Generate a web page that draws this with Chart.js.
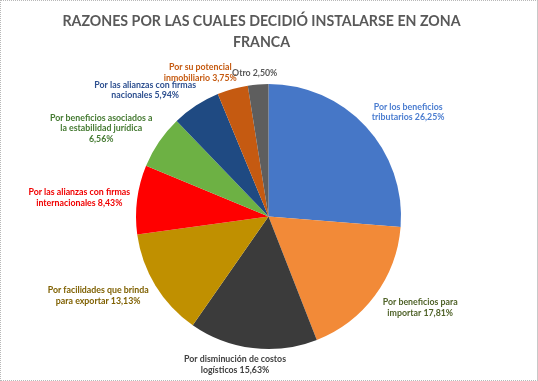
<!DOCTYPE html>
<html>
<head>
<meta charset="utf-8">
<script src="https://cdn.jsdelivr.net/npm/chart.js@4.4.1/dist/chart.umd.min.js"></script>
<style>
html,body{margin:0;padding:0;background:#fff;}
#wrap{width:538px;height:381px;box-sizing:border-box;border:1px dotted #b8b8b8;border-right:1px solid #c8c8c8;}
canvas{display:block;}
</style>
</head>
<body>
<div id="wrap"><canvas id="c" width="536" height="379"></canvas></div>
<script>
// ---- data ----
const titleLines = ["RAZONES POR LAS CUALES DECIDIÓ INSTALARSE EN ZONA", "FRANCA"];
const categories = [
  "Por los beneficios\ntributarios",
  "Por beneficios para\nimportar",
  "Por disminución de costos\nlogísticos",
  "Por facilidades que brinda\npara exportar",
  "Por las alianzas con firmas\ninternacionales",
  "Por beneficios asociados a\nla estabilidad jurídica\n",
  "Por las alianzas con firmas\nnacionales",
  "Por su potencial\ninmobiliario",
  "Otro"
];
const values = [26.25, 17.81, 15.63, 13.13, 8.43, 6.56, 5.94, 3.75, 2.50];

// ---- styles ----
const sliceColors = ["#4677C7", "#F28A38", "#3B3B3B", "#C09000", "#FF0000", "#6DB144", "#1F4A82", "#C55A11", "#5E5E5E"];
const labelColors = ["#4B7DD0", "#4F6228", "#404040", "#7F6000", "#F00000", "#457A32", "#2E5090", "#C55A11", "#595959"];
// label placement: [angle tweak (deg) from slice middle, distance as factor of radius]
const labelPlacement = [[6, 1.315], [-5.6, 1.335], [6, 1.145], [6.5, 1.418], [-1.7, 1.435], [-6.6, 1.426], [-11.1, 1.333], [-9.6, 1.203], [-1, 1.088]];
const FONT = "Lato";

function fmt(v) { return v.toFixed(2).replace('.', ',') + '%'; }

const titlePlugin = {
  id: 'customTitle',
  afterDraw(chart) {
    const ctx = chart.ctx;
    ctx.save();
    ctx.font = "bold 14.2px " + FONT;
    ctx.fillStyle = "#595959";
    ctx.textAlign = "center";
    ctx.textBaseline = "middle";
    titleLines.forEach((t, k) => ctx.fillText(t, 260.5, 20 + k * 21));
    ctx.restore();
  }
};

const labelPlugin = {
  id: 'sliceLabels',
  afterDatasetsDraw(chart) {
    const ctx = chart.ctx;
    const meta = chart.getDatasetMeta(0);
    ctx.save();
    ctx.font = "bold 8.8px " + FONT;
    ctx.textAlign = "center";
    ctx.textBaseline = "middle";
    const LH = 10.5;
    meta.data.forEach((arc, i) => {
      const p = arc.getProps(['x', 'y', 'startAngle', 'endAngle', 'outerRadius'], true);
      const mid = (p.startAngle + p.endAngle) / 2 + labelPlacement[i][0] * Math.PI / 180;
      const d = p.outerRadius * labelPlacement[i][1];
      const cx = p.x + Math.cos(mid) * d;
      const cy = p.y + Math.sin(mid) * d;
      const cat = chart.data.labels[i];
      const val = chart.data.datasets[0].data[i];
      const full = cat.endsWith("\n") ? cat + fmt(val) : cat + " " + fmt(val);
      const lines = full.split("\n");
      ctx.fillStyle = labelColors[i];
      lines.forEach((t, k) => ctx.fillText(t, cx, cy + (k - (lines.length - 1) / 2) * LH));
    });
    ctx.restore();
  }
};

new Chart(document.getElementById('c'), {
  type: 'pie',
  data: {
    labels: categories,
    datasets: [{
      data: values,
      backgroundColor: sliceColors,
      borderWidth: 0
    }]
  },
  options: {
    responsive: false,
    animation: false,
    layout: { padding: { left: 135, right: 136, top: 83, bottom: 31 } },
    plugins: {
      legend: { display: false },
      tooltip: { enabled: false },
      title: { display: false }
    }
  },
  plugins: [labelPlugin, titlePlugin]
});
</script>
</body>
</html>
